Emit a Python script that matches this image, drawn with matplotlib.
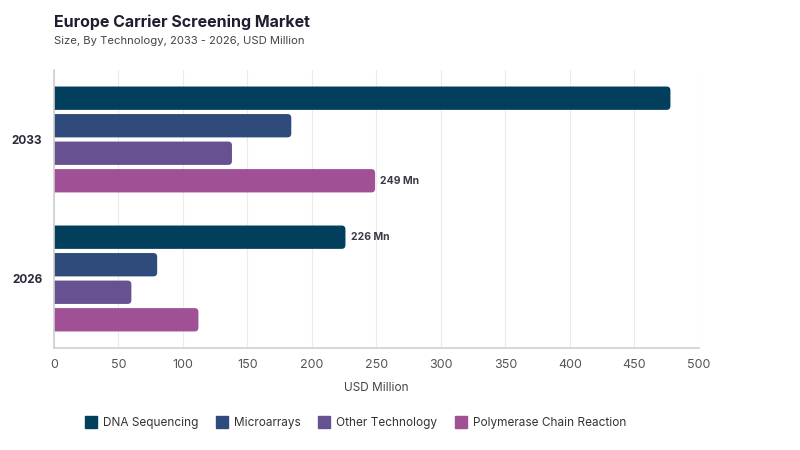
import matplotlib
matplotlib.use("Agg")
import matplotlib.pyplot as plt
from matplotlib.patches import FancyBboxPatch
from matplotlib.lines import Line2D
import numpy as np

plt.rcParams['font.family'] = ['Inter', 'DejaVu Sans']

years = ['2033', '2026']
technologies = ['DNA Sequencing', 'Microarrays', 'Other Technology', 'Polymerase Chain Reaction']
values = {
    'DNA Sequencing': [478, 226],
    'Microarrays': [184, 80],
    'Other Technology': [138, 60],
    'Polymerase Chain Reaction': [249, 112],
}
colors = ['#013f5c', '#2f4b7c', '#665191', '#a05195']
labels_shown = {('Polymerase Chain Reaction', 0): '249 Mn', ('DNA Sequencing', 1): '226 Mn'}

fig = plt.figure(figsize=(8, 4.5), dpi=100)
ax = fig.add_axes([0.0675, 0.2267, 0.806, 0.6178])

step = 0.198
height = 0.168
y_base = np.arange(len(years))
xpx = 645 / 500  # pixels per unit
ypx = 278 / 2.0

for i, tech in enumerate(technologies):
    ys = y_base + (i - 1.5) * step
    for j, v in enumerate(values[tech]):
        y = ys[j]
        patch = FancyBboxPatch((-6, y - height / 2), v + 6, height,
                               boxstyle="round,pad=0,rounding_size=3",
                               mutation_aspect=xpx / ypx,
                               facecolor=colors[i], edgecolor='none', clip_on=True)
        ax.add_patch(patch)
        if (tech, j) in labels_shown:
            ax.text(v + 4, y, labels_shown[(tech, j)], va='center', ha='left',
                    fontsize=7.5, fontweight='bold', color='#3a3a4a')

ax.set_xlim(0, 500)
ax.set_ylim(1.5, -0.5)
ax.set_xticks(np.arange(0, 501, 50))
ax.set_yticks(y_base)
ax.set_yticklabels(years, fontsize=8.5, fontweight='bold', color='#2a2a3a')
ax.tick_params(axis='x', length=0, labelsize=9, colors='#555555', pad=8)
ax.tick_params(axis='y', length=0, pad=8.5)
ax.grid(axis='x', color='#ebebeb', linewidth=0.8)
ax.set_axisbelow(True)
for s in ['top', 'right']:
    ax.spines[s].set_visible(False)
ax.spines['left'].set_color('#d0d0d0')
ax.spines['bottom'].set_color('#d0d0d0')
ax.spines['left'].set_linewidth(1.2)
ax.spines['bottom'].set_linewidth(1.2)
ax.set_xlabel('USD Million', fontsize=8.5, color='#444444', labelpad=8)

fig.text(0.0675, 0.951, 'Europe Carrier Screening Market', fontsize=11.5, fontweight='bold',
         color='#1e1e2e', va='center')
fig.text(0.0675, 0.909, 'Size, By Technology, 2033 - 2026, USD Million', fontsize=8.1,
         color='#444444', va='center')

handles = [Line2D([0], [0], marker='s', linestyle='none', markersize=9,
                  markerfacecolor=c, markeredgecolor=c) for c in colors]
fig.legend(handles, technologies, loc='center', bbox_to_anchor=(0.444, 0.06), ncol=4,
           frameon=False, fontsize=8.5, handletextpad=0.4, columnspacing=1.4,
           handlelength=1.2, labelcolor='#333333')

fig.savefig('out.png', dpi=100)
